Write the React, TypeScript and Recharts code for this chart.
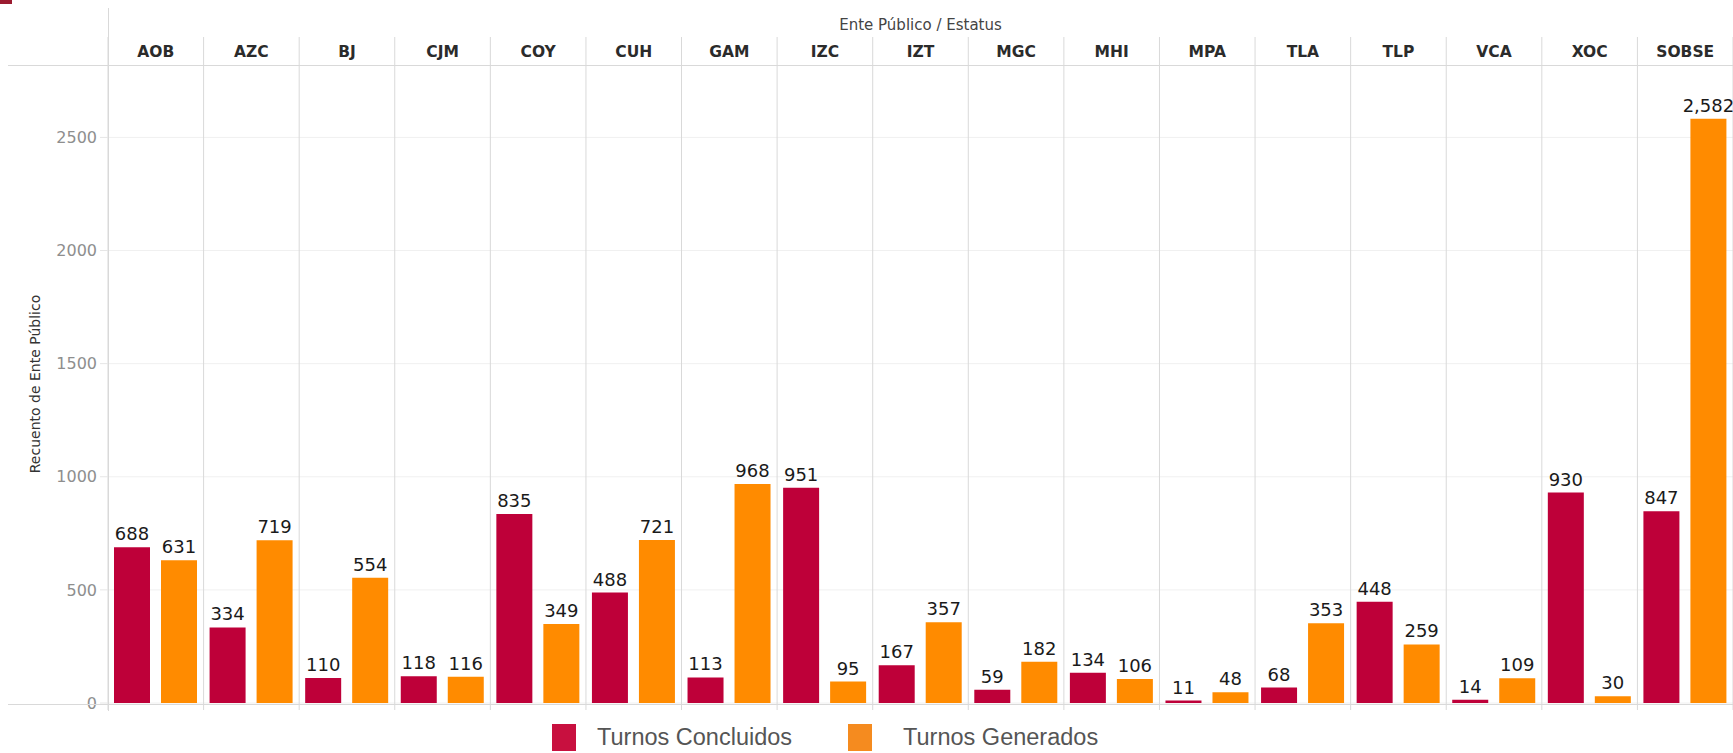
import { BarChart, Bar, XAxis, YAxis, CartesianGrid, LabelList } from "recharts";

const entes = ["AOB", "AZC", "BJ", "CJM", "COY", "CUH", "GAM", "IZC", "IZT", "MGC", "MHI", "MPA", "TLA", "TLP", "VCA", "XOC", "SOBSE"];
const concluidos = [688, 334, 110, 118, 835, 488, 113, 951, 167, 59, 134, 11, 68, 448, 14, 930, 847];
const generados = [631, 719, 554, 116, 349, 721, 968, 95, 357, 182, 106, 48, 353, 259, 109, 30, 2582];
const yTicks = [0, 500, 1000, 1500, 2000, 2500];

const RED = "#BE0039";
const ORANGE = "#FF8B00";
const LINE = "#d9d9d9";
const FONT = "'DejaVu Sans', Verdana, sans-serif";

const data = entes.map((name, i) => ({
  name,
  concluidos: concluidos[i],
  generados: generados[i],
}));

const fmt = (v: any) => Number(v).toLocaleString("en-US");

// column dividers sit on the band edges, not on the category centres
const bandEdges = (props: any) => {
  const off = props.offset || {};
  const step = off.width / entes.length;
  return Array.from({ length: entes.length + 1 }, (_, i) => off.left + i * step);
};

function YTitle(props: any) {
  const vb = props.viewBox || {};
  const cx = 35;
  const cy = (vb.y ?? 65) + (vb.height ?? 638) / 2;
  return (
    <text
      x={cx}
      y={cy}
      transform={`rotate(-90, ${cx}, ${cy})`}
      textAnchor="middle"
      dominantBaseline="central"
      fontSize={14}
      fill="#333"
      fontFamily={FONT}
    >
      Recuento de Ente Público
    </text>
  );
}

export default function App() {
  return (
    <div style={{ position: "absolute", left: 0, top: 0, width: 1733, height: 753, background: "#fff", fontFamily: FONT }}>
      {/* corner mark */}
      <div style={{ position: "absolute", left: 0, top: 0, width: 12, height: 4, background: "#9b1b30" }} />

      <BarChart
        width={1733}
        height={753}
        data={data}
        margin={{ top: 37, right: 0, bottom: 40, left: 0 }}
        barSize={36}
        barGap={11}
      >
        <CartesianGrid
          xAxisId="top"
          stroke="#f0f0f0"
          horizontalValues={yTicks}
          verticalCoordinatesGenerator={bandEdges}
          vertical={(p: any) => (
            <line key={p.key ?? `v-${p.x1}`} x1={p.x1} x2={p.x2} y1={p.y1 - 28} y2={p.y2 + 7} stroke={LINE} strokeWidth={1} />
          )}
        />
        <XAxis
          xAxisId="top"
          dataKey="name"
          orientation="top"
          height={28}
          axisLine={false}
          tickLine={false}
          interval={0}
          tick={{ fontSize: 15.5, fontWeight: 700, fill: "#2b2b2b", fontFamily: FONT }}
          label={{ value: "Ente Público / Estatus", position: "top", offset: 7, fontSize: 15, fill: "#444", fontFamily: FONT }}
        />
        <XAxis
          xAxisId="bottom"
          dataKey="name"
          orientation="bottom"
          height={10}
          axisLine={false}
          tick={false}
          tickSize={6}
          tickLine={{ stroke: LINE }}
          interval={0}
        />
        <YAxis
          width={108}
          domain={[0, 2820]}
          ticks={yTicks}
          allowDataOverflow
          axisLine={false}
          tickSize={8}
          tickMargin={3}
          tickLine={{ stroke: "#e6e6e6" }}
          tick={{ fontSize: 16, fill: "#8e8e8e", fontFamily: FONT }}
          label={<YTitle />}
        />
        <Bar xAxisId="top" dataKey="concluidos" name="Turnos Concluidos" fill={RED} isAnimationActive={false}>
          <LabelList dataKey="concluidos" position="top" offset={7} formatter={fmt} style={{ fontSize: 18, fill: "#1a1a1a", fontFamily: FONT }} />
        </Bar>
        <Bar xAxisId="top" dataKey="generados" name="Turnos Generados" fill={ORANGE} isAnimationActive={false}>
          <LabelList dataKey="generados" position="top" offset={7} formatter={fmt} style={{ fontSize: 18, fill: "#1a1a1a", fontFamily: FONT }} />
        </Bar>
      </BarChart>

      {/* frame lines of the header row, baseline and left pane edge */}
      <div style={{ position: "absolute", left: 8, top: 65, width: 1725, height: 1, background: LINE }} />
      <div style={{ position: "absolute", left: 8, top: 704, width: 1725, height: 1, background: LINE }} />
      <div style={{ position: "absolute", left: 108, top: 8, width: 1, height: 703, background: LINE }} />

      {/* legend */}
      <div
        style={{
          position: "absolute",
          top: 724,
          left: 552,
          display: "flex",
          alignItems: "center",
          fontFamily: "'Liberation Sans', Arial, sans-serif",
          fontSize: 23.5,
          color: "#555",
        }}
      >
        <span style={{ display: "inline-block", width: 24, height: 27, background: "#C8103F", marginRight: 21 }} />
        <span style={{ marginRight: 56 }}>Turnos Concluidos</span>
        <span style={{ display: "inline-block", width: 24, height: 27, background: "#F58B1F", marginRight: 31 }} />
        <span>Turnos Generados</span>
      </div>
    </div>
  );
}
